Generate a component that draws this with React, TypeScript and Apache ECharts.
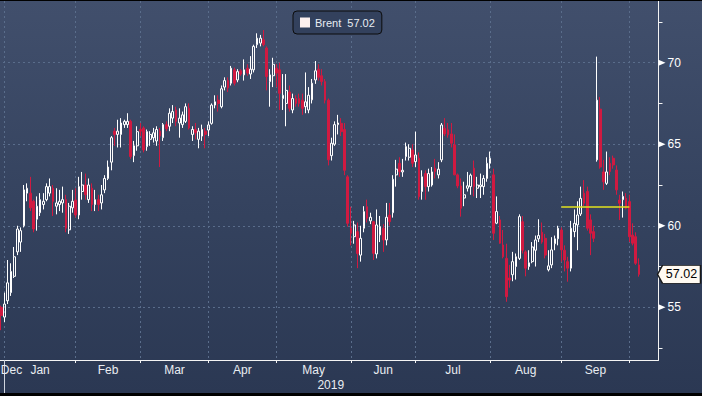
import React, { useEffect, useRef } from 'react';
import * as echarts from 'echarts';

const FONT = '"Liberation Sans", Arial, Helvetica, sans-serif';

// ---------- calendar (category axis) ----------
const holidays: string[] = ['2019-01-01', '2019-04-19'];
const calendarStart = [2018, 11, 28];
const calendarEnd = [2019, 9, 14];
const monthNames = ['Jan', 'Feb', 'Mar', 'Apr', 'May', 'Jun', 'Jul', 'Aug', 'Sep', 'Oct', 'Nov', 'Dec'];

function buildTradingDays(): string[] {
  const out: string[] = [];
  const d = new Date(Date.UTC(calendarStart[0], calendarStart[1], calendarStart[2]));
  const end = Date.UTC(calendarEnd[0], calendarEnd[1], calendarEnd[2]);
  while (d.getTime() <= end) {
    const wd = d.getUTCDay();
    const s = d.toISOString().slice(0, 10);
    if (wd !== 0 && wd !== 6 && holidays.indexOf(s) < 0) out.push(s);
    d.setUTCDate(d.getUTCDate() + 1);
  }
  return out;
}
const dates = buildTradingDays();

// ---------- Brent OHLC ----------
const open: number[] = [
  54.0, 55.0, 54.4, 55.4, 55.9, 56.9, 58.4, 59.0, 60.0, 62.0,
  62.0, 61.5, 60.4, 60.8, 61.3, 61.6, 62.0, 62.3, 61.2, 61.3,
  61.4, 61.6, 59.75, 61.1, 61.58, 60.66, 62.1, 62.5, 61.6, 62.3,
  61.3, 61.6, 61.4, 62.2, 62.9, 63.9, 65.8, 65.6, 65.6, 66.2,
  66.2, 66.4, 64.3, 64.9, 65.9, 66.0, 64.85, 65.3, 65.4, 65.2,
  65.8, 65.4, 66.2, 66.1, 66.6, 67.1, 66.3, 66.2, 66.4, 67.2,
  65.6, 65.9, 65.3, 65.5, 65.8, 65.87, 66.28, 67.4, 67.7, 67.3,
  68.5, 68.9, 68.74, 69.56, 68.94, 69.5, 69.25, 69.66, 69.3, 69.56,
  71.1, 71.2, 71.4, 70.9, 68.84, 69.2, 69.66, 69.56, 67.8, 67.5,
  68.2, 67.1, 67.8, 67.8, 67.7, 67.3, 67.1, 67.72, 68.94, 69.6,
  69.2, 68.84, 67.7, 64.3, 65.0, 66.2, 66.28, 65.9, 63.0, 59.85,
  59.33, 59.64, 58.2, 59.85, 61.17, 60.3, 60.25, 58.27, 59.44, 59.85,
  59.13, 60.66, 60.8, 63.12, 63.83, 63.3, 64.24, 64.2, 64.65, 63.93,
  64.14, 62.1, 63.2, 62.4, 62.5, 63.53, 63.12, 64.04, 65.98, 65.88,
  65.63, 64.96, 63.12, 62.44, 61.7, 62.3, 62.4, 63.53, 62.3, 62.4,
  62.4, 62.9, 63.83, 63.12, 60.16, 60.36, 58.82, 58.0, 56.8, 57.0,
  57.5, 58.0, 60.25, 58.4, 57.5, 57.8, 58.5, 59.2, 59.6, 59.23,
  57.3, 57.6, 58.9, 59.2, 59.74, 58.5, 57.8, 57.4, 59.64, 60.05,
  60.72, 62.0, 62.1, 60.36, 59.64, 64.04, 67.15, 63.3, 62.6, 63.83,
  64.14, 63.42, 61.58, 61.6, 61.68, 61.48, 59.43, 59.33, 57.6,
];
const high: number[] = [
  55.3, 55.1, 55.9, 57.9, 57.7, 58.7, 60.0, 59.9, 62.5, 62.6,
  63.0, 61.6, 61.8, 62.0, 62.0, 62.6, 62.9, 62.5, 62.3, 62.2,
  62.4, 61.9, 61.4, 62.2, 62.3, 63.0, 63.3, 63.2, 62.9, 62.6,
  62.2, 61.9, 62.5, 63.1, 64.0, 65.5, 66.0, 66.5, 66.6, 66.5,
  66.9, 66.5, 65.2, 66.1, 66.3, 66.1, 65.9, 65.8, 66.0, 66.1,
  66.0, 66.3, 66.4, 67.2, 67.4, 67.3, 67.2, 67.0, 67.5, 67.5,
  66.1, 66.3, 66.0, 66.2, 66.0, 66.4, 67.5, 68.0, 68.0, 68.6,
  69.1, 69.1, 69.8, 69.7, 69.6, 69.6, 70.2, 69.9, 70.4, 71.1,
  71.8, 71.7, 72.0, 71.0, 69.6, 70.3, 69.9, 70.0, 69.3, 69.3,
  68.6, 68.1, 68.0, 68.1, 68.1, 69.4, 68.5, 69.0, 70.1, 69.9,
  69.6, 69.0, 67.8, 65.4, 66.4, 66.8, 66.6, 66.3, 63.1, 61.17,
  60.3, 60.2, 60.0, 61.2, 61.6, 60.8, 60.3, 61.0, 60.6, 60.1,
  61.4, 61.4, 63.1, 64.04, 64.2, 64.1, 65.1, 65.0, 65.0, 65.77,
  64.5, 63.4, 63.4, 63.5, 63.6, 64.1, 63.9, 66.3, 66.6, 66.3,
  66.3, 65.6, 63.2, 62.9, 62.7, 63.3, 63.2, 64.0, 63.0, 63.2,
  63.1, 64.2, 64.55, 63.5, 61.8, 60.6, 59.74, 58.9, 57.6, 58.4,
  58.3, 60.7, 60.6, 58.5, 58.5, 59.0, 59.4, 60.4, 60.2, 59.5,
  58.5, 59.3, 59.4, 60.0, 59.9, 58.8, 58.1, 60.3, 61.0, 61.5,
  62.4, 62.8, 62.4, 60.7, 60.0, 70.37, 67.9, 64.04, 64.55, 64.2,
  64.3, 63.7, 61.9, 62.1, 62.0, 61.9, 60.15, 59.6, 58.0,
];
const low: number[] = [
  53.7, 53.6, 54.1, 55.2, 55.7, 56.8, 58.2, 58.4, 59.9, 61.5,
  60.9, 59.6, 59.7, 60.6, 61.0, 61.5, 61.8, 60.6, 60.7, 60.9,
  60.8, 59.6, 59.5, 60.8, 60.5, 60.4, 61.6, 61.6, 61.4, 60.9,
  60.9, 60.9, 61.0, 62.0, 62.8, 63.4, 64.9, 64.8, 64.8, 66.0,
  66.0, 64.1, 63.9, 64.6, 65.5, 64.5, 64.6, 64.9, 65.1, 64.9,
  63.6, 65.2, 65.8, 65.8, 66.3, 66.1, 65.4, 66.0, 66.3, 65.9,
  65.2, 65.3, 64.75, 65.2, 64.75, 65.5, 66.2, 67.2, 67.0, 67.2,
  68.3, 68.2, 68.6, 68.6, 68.8, 69.2, 68.9, 69.2, 69.0, 69.4,
  70.9, 71.0, 71.0, 68.3, 67.3, 68.5, 68.5, 67.1, 67.1, 66.1,
  67.0, 66.9, 67.3, 67.3, 66.8, 66.9, 66.9, 67.5, 68.7, 68.9,
  68.6, 67.5, 63.7, 64.0, 64.9, 65.6, 65.5, 63.1, 59.95, 58.8,
  58.9, 57.4, 57.8, 59.6, 60.2, 60.1, 57.9, 58.0, 59.0, 58.4,
  58.8, 60.0, 60.5, 62.4, 63.0, 63.0, 64.0, 64.0, 63.6, 63.6,
  61.6, 61.6, 61.6, 62.1, 62.4, 62.9, 62.9, 63.9, 65.5, 65.4,
  64.8, 63.1, 62.3, 60.56, 61.2, 62.1, 61.9, 61.8, 61.7, 61.7,
  61.9, 62.7, 63.5, 59.13, 60.1, 58.9, 58.0, 55.34, 56.2, 56.6,
  56.7, 57.9, 58.3, 56.9, 57.3, 57.7, 57.5, 59.0, 58.9, 58.0,
  57.2, 57.4, 58.5, 58.8, 57.8, 57.2, 56.57, 57.2, 59.3, 58.5,
  60.6, 61.2, 59.7, 58.2, 59.0, 63.93, 63.5, 62.2, 62.5, 63.1,
  63.5, 61.9, 60.35, 60.5, 61.0, 59.0, 58.8, 57.6, 56.88,
];
const close: number[] = [
  55.0, 54.5, 55.2, 56.5, 57.2, 58.1, 59.8, 59.7, 62.2, 62.3,
  61.1, 59.8, 61.2, 61.6, 61.5, 62.4, 62.4, 61.5, 61.4, 61.5,
  61.6, 59.85, 61.2, 61.5, 60.66, 62.4, 62.5, 61.9, 62.5, 61.3,
  61.6, 61.3, 61.9, 62.9, 63.6, 65.4, 65.6, 65.8, 66.3, 66.4,
  66.4, 64.24, 64.9, 65.77, 65.8, 64.65, 65.77, 65.6, 65.7, 65.9,
  65.5, 66.2, 65.95, 66.9, 67.0, 66.4, 66.6, 66.8, 67.3, 66.0,
  65.9, 65.7, 65.8, 65.9, 65.6, 66.18, 67.4, 67.6, 67.5, 68.4,
  68.9, 68.45, 69.66, 68.74, 69.45, 69.3, 69.56, 69.36, 69.6, 71.0,
  71.5, 71.5, 71.1, 69.15, 69.25, 69.9, 69.36, 68.12, 68.0, 68.3,
  67.2, 67.8, 67.5, 67.5, 67.2, 67.6, 68.0, 68.74, 69.5, 69.1,
  68.84, 67.7, 64.04, 65.06, 66.2, 66.3, 65.77, 63.4, 60.15, 59.54,
  60.05, 58.3, 59.23, 60.87, 60.46, 60.52, 58.31, 60.05, 59.95, 59.13,
  60.52, 60.25, 62.85, 63.47, 63.32, 63.4, 64.85, 64.75, 63.83, 64.34,
  61.78, 63.0, 62.4, 63.2, 63.3, 63.32, 63.47, 66.18, 65.63, 65.57,
  65.06, 63.12, 62.44, 61.07, 61.9, 62.45, 63.1, 62.4, 62.5, 62.5,
  62.9, 63.83, 64.14, 59.54, 60.87, 58.93, 58.1, 55.65, 56.67, 57.8,
  58.1, 60.56, 58.5, 57.4, 57.73, 58.7, 59.13, 59.4, 59.0, 58.2,
  57.54, 58.52, 59.2, 59.85, 58.52, 57.9, 57.4, 59.85, 60.15, 60.66,
  61.68, 61.38, 59.85, 59.54, 59.23, 67.7, 63.6, 62.7, 63.3, 63.32,
  63.73, 62.2, 61.38, 61.8, 61.07, 59.33, 58.93, 57.7, 57.02,
];

const seriesName = 'Brent';
const yMin = 51.77;
const yMax = 73.78;
const yLabelValues: number[] = [55, 60, 65, 70];
const yMinorTickValues: number[] = [52.5, 57.5, 62.5, 67.5, 72.5];
// yellow reference level drawn across September
const septemberLevel = 61.19;
const yearName = '2019';

// ---------- styles ----------
const RED = '#d01a41';
const GRID = '#5a6d8b';
const AXIS = '#f4f4f4';
const BAND = 3.24;

// ---------- derived axis helpers ----------
const monthOf = (s: string) => Number(s.slice(5, 7)) - 1;
const monthStarts: number[] = [];
dates.forEach((d, i) => {
  if (i === 0 || monthOf(d) !== monthOf(dates[i - 1])) monthStarts.push(i);
});
const tickSet = new Set<number>(monthStarts.filter((i) => i > 0));
const labelMap = new Map<number, string>();
for (let k = 0; k < monthStarts.length - 1; k++) {
  const s = monthStarts[k];
  const e = monthStarts[k + 1];
  const name = monthNames[monthOf(dates[s])];
  if (s === 0) {
    labelMap.set(0, `{d|${name}}`);
  } else {
    const mid = (s + e) / 2;
    const idx = Math.floor(mid);
    labelMap.set(idx, mid % 1 !== 0 ? `{h|${name}}` : `{m|${name}}`);
  }
}
const yearStart = dates.findIndex((d) => d.startsWith(yearName));
const lastCat = dates[dates.length - 1];
const lastClose = close[close.length - 1];

const candleData = close.map((c, i) => [open[i], c, low[i], high[i]]);

const septStart = monthStarts.find((i) => dates[i].startsWith('2019-09')) as number;
const octStart = monthStarts.find((i) => dates[i].startsWith('2019-10')) as number;

const option: any = {
  animation: false,
  textStyle: { fontFamily: FONT },
  grid: {
    left: -2,
    right: 43.5,
    top: 0,
    bottom: 33,
    containLabel: false,
    outerBoundsMode: 'none',
  },
  legend: {
    show: true,
    left: 293,
    top: 10,
    padding: [6, 7, 6, 7],
    itemWidth: 10,
    itemHeight: 10,
    selectedMode: false,
    backgroundColor: '#33415d',
    borderColor: '#0c0c0c',
    borderWidth: 1,
    borderRadius: 4,
    formatter: () => `{a|${seriesName}}{b|${lastClose.toFixed(2)}}`,
    textStyle: {
      color: '#e8ecf2',
      fontSize: 11,
      fontFamily: FONT,
      rich: {
        a: { color: '#e8ecf2', fontSize: 11, fontFamily: FONT },
        b: { color: '#e8ecf2', fontSize: 11, fontFamily: FONT, padding: [0, 0, 0, 6] },
      },
    },
    data: [{ name: seriesName, icon: 'rect', itemStyle: { color: '#fdf0ee', borderWidth: 0 } }],
  },
  xAxis: [
    {
      type: 'category',
      data: dates,
      boundaryGap: false,
      position: 'bottom',
      axisLine: { show: true, onZero: false, lineStyle: { color: AXIS, width: 1 } },
      axisTick: {
        show: true,
        length: 3,
        interval: (i: number) => tickSet.has(i),
        lineStyle: { color: AXIS },
      },
      axisLabel: {
        show: true,
        interval: (i: number) => labelMap.has(i),
        formatter: (_v: string, i: number) => labelMap.get(i) || '',
        color: '#e9edf2',
        fontSize: 12,
        fontFamily: FONT,
        margin: 4,
        rich: {
          m: { color: '#e9edf2', fontSize: 12, fontFamily: FONT },
          h: { color: '#e9edf2', fontSize: 12, fontFamily: FONT, padding: [0, 0, 0, BAND] },
          d: { color: '#e9edf2', fontSize: 12, fontFamily: FONT, padding: [0, 0, 0, 27] },
        },
      },
      splitLine: {
        show: true,
        interval: (i: number) => tickSet.has(i),
        lineStyle: { color: GRID, type: [2, 3], width: 1 },
      },
      name: yearName,
      nameLocation: 'middle',
      nameGap: 19,
      nameMoveOverlap: false,
      nameTextStyle: { color: '#e9edf2', fontSize: 12, fontFamily: FONT, padding: [0, 0, 0, 5] },
    },
    {
      type: 'category',
      data: dates,
      boundaryGap: false,
      position: 'bottom',
      axisLine: { show: false, onZero: false },
      axisLabel: { show: false },
      splitLine: { show: false },
      axisTick: {
        show: true,
        length: 33,
        interval: (i: number) => i === yearStart,
        lineStyle: { color: '#cfd5de' },
      },
    },
  ],
  yAxis: [
    {
      type: 'value',
      position: 'right',
      min: yMin,
      max: yMax,
      axisLine: { show: true, onZero: false, lineStyle: { color: AXIS, width: 1 } },
      axisTick: { show: true, length: 4, customValues: yMinorTickValues, lineStyle: { color: AXIS } },
      axisLabel: {
        show: true,
        customValues: yLabelValues,
        margin: 9,
        color: '#ffffff',
        fontSize: 12,
        fontFamily: FONT,
      },
      splitLine: { show: false },
    },
    {
      type: 'value',
      position: 'right',
      min: yMin,
      max: yMax,
      axisLine: { show: false },
      axisTick: { show: false, customValues: yLabelValues },
      axisLabel: { show: false, customValues: yLabelValues },
      splitLine: { show: true, lineStyle: { color: GRID, type: [2, 3], width: 1 } },
    },
  ],
  series: [
    {
      type: 'candlestick',
      name: seriesName,
      xAxisIndex: 0,
      yAxisIndex: 0,
      data: candleData,
      barWidth: 2.2,
      itemStyle: {
        color: 'rgba(0,0,0,0)',
        color0: RED,
        borderColor: '#ffffff',
        borderColor0: RED,
        borderWidth: 1,
      },
      emphasis: { disabled: true },
      markLine: {
        silent: true,
        symbol: ['none', 'none'],
        label: { show: false },
        lineStyle: { color: '#e2e21e', width: 1.5, type: 'solid' },
        emphasis: { disabled: true },
        data: [[{ coord: [dates[septStart], septemberLevel] }, { coord: [dates[octStart], septemberLevel] }]],
      },
      markPoint: {
        silent: true,
        label: { show: false },
        data: [
          ...yLabelValues.map((v) => ({
            coord: [lastCat, v],
            symbol: 'path://M0,0L10,6L0,12Z',
            symbolSize: [7, 6],
            symbolOffset: [3.5, 0],
            itemStyle: { color: '#ffffff', borderWidth: 0 },
            label: { show: false },
          })),
          {
            coord: [lastCat, lastClose],
            symbol: 'path://M0,9L5,0L43,0L43,18L5,18Z',
            symbolSize: [43, 18],
            symbolOffset: [20.5, 0],
            itemStyle: { color: '#fffaf2', borderColor: '#1a1a1a', borderWidth: 1 },
            label: {
              show: true,
              position: 'inside',
              formatter: lastClose.toFixed(2),
              color: '#000000',
              fontSize: 12.5,
              fontFamily: FONT,
              offset: [2.5, 0],
            },
          },
        ],
      },
    },
  ],
};

export default function App() {
  const ref = useRef<HTMLDivElement>(null);
  useEffect(() => {
    document.body.style.margin = '0';
    const chart = echarts.init(ref.current as HTMLDivElement, null, { renderer: 'svg' });
    chart.setOption(option);
    return () => chart.dispose();
  }, []);
  return (
    <div style={{ width: 702, height: 396, background: '#000', position: 'relative', overflow: 'hidden' }}>
      <div
        ref={ref}
        style={{
          position: 'absolute',
          left: 0,
          top: 1,
          width: 702,
          height: 392,
          background: 'linear-gradient(180deg, #414f6c 0%, #34425e 55%, #2b3853 100%)',
        }}
      />
    </div>
  );
}
